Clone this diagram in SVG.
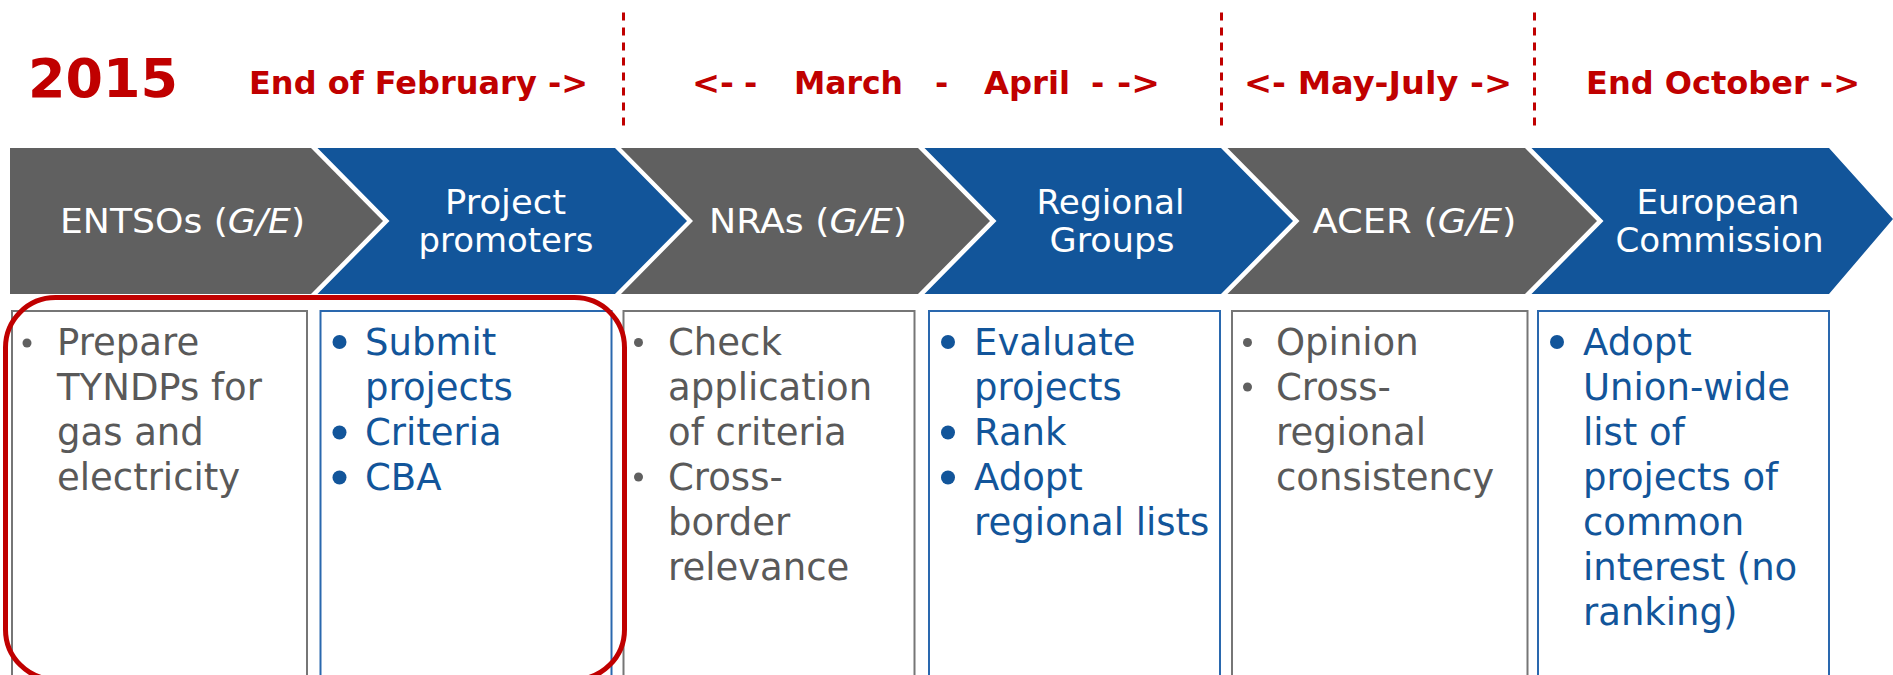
<svg xmlns="http://www.w3.org/2000/svg" width="1893" height="675" viewBox="0 0 1893 675">
<style>
.hdr{font-family:"DejaVu Sans","Verdana",sans-serif;font-weight:bold;fill:#C00000;}
.lbl{font-family:"DejaVu Sans","Verdana",sans-serif;font-size:33px;fill:#FFFFFF;text-anchor:middle;}
.gray{fill:#606060;}
.blue{fill:#12559A;}
.gtxt{font-family:"DejaVu Sans","Verdana",sans-serif;font-size:37px;fill:#595959;}
.btxt{font-family:"DejaVu Sans","Verdana",sans-serif;font-size:37px;fill:#12559A;}
.gbox{fill:#FFFFFF;stroke:#767676;stroke-width:2;}
.bbox{fill:#FFFFFF;stroke:#2A68AE;stroke-width:2;}
.div{stroke:#C00000;stroke-width:3;stroke-dasharray:8 7;fill:none;}
.gdot{fill:#606060;}
.bdot{fill:#12559A;}
</style>
<rect width="1893" height="675" fill="#FFFFFF"/>

<g id="header">
<text class="hdr" x="28" y="97" font-size="54" textLength="150" lengthAdjust="spacingAndGlyphs">2015</text>
<text class="hdr" x="249" y="94.3" font-size="32" textLength="339" lengthAdjust="spacingAndGlyphs">End of February -&gt;</text>
<text class="hdr" x="692" y="93.5" font-size="32" textLength="42" lengthAdjust="spacingAndGlyphs">&lt;-</text>
<text class="hdr" x="744" y="93.5" font-size="32">-</text>
<text class="hdr" x="794" y="93.5" font-size="32" textLength="109" lengthAdjust="spacingAndGlyphs">March</text>
<text class="hdr" x="935" y="93.5" font-size="32">-</text>
<text class="hdr" x="984" y="93.5" font-size="32" textLength="86" lengthAdjust="spacingAndGlyphs">April</text>
<text class="hdr" x="1091" y="93.5" font-size="32">-</text>
<text class="hdr" x="1117" y="93.5" font-size="32" textLength="43" lengthAdjust="spacingAndGlyphs">-&gt;</text>
<text class="hdr" x="1244" y="93.5" font-size="32" textLength="268" lengthAdjust="spacingAndGlyphs">&lt;- May-July -&gt;</text>
<text class="hdr" x="1586" y="93.5" font-size="32" textLength="274" lengthAdjust="spacingAndGlyphs">End October -&gt;</text>
</g>

<g id="dividers">
<line class="div" x1="623.5" y1="12.5" x2="623.5" y2="132"/>
<line class="div" x1="1221.5" y1="12.5" x2="1221.5" y2="132"/>
<line class="div" x1="1534.5" y1="12.5" x2="1534.5" y2="132"/>
</g>

<g id="chevron-entsos">
<polygon class="gray" points="10,148 311,148 383,221 311,294 10,294"/>
<text class="lbl" x="182.5" y="233" textLength="245" lengthAdjust="spacingAndGlyphs">ENTSOs (<tspan font-style="italic">G/E</tspan>)</text>
</g>
<g id="chevron-promoters">
<polygon class="blue" points="317.5,148 615,148 687,221 615,294 317.5,294 389.5,221"/>
<text class="lbl" x="505.5" y="213.5" textLength="121" lengthAdjust="spacingAndGlyphs">Project</text>
<text class="lbl" x="506" y="251.5" textLength="175" lengthAdjust="spacingAndGlyphs">promoters</text>
</g>
<g id="chevron-nras">
<polygon class="gray" points="621,148 918,148 990,221 918,294 621,294 693,221"/>
<text class="lbl" x="808" y="233" textLength="198" lengthAdjust="spacingAndGlyphs">NRAs (<tspan font-style="italic">G/E</tspan>)</text>
</g>
<g id="chevron-regional">
<polygon class="blue" points="924.5,148 1221,148 1293,221 1221,294 924.5,294 996.5,221"/>
<text class="lbl" x="1110.5" y="213.5" textLength="148" lengthAdjust="spacingAndGlyphs">Regional</text>
<text class="lbl" x="1112" y="251.5" textLength="125" lengthAdjust="spacingAndGlyphs">Groups</text>
</g>
<g id="chevron-acer">
<polygon class="gray" points="1227.5,148 1525,148 1597,221 1525,294 1227.5,294 1299.5,221"/>
<text class="lbl" x="1414.5" y="233" textLength="204" lengthAdjust="spacingAndGlyphs">ACER (<tspan font-style="italic">G/E</tspan>)</text>
</g>
<g id="chevron-commission">
<polygon class="blue" points="1531.5,148 1829,148 1893,219 1829,294 1531.5,294 1603.5,221"/>
<text class="lbl" x="1718" y="213.5" textLength="163" lengthAdjust="spacingAndGlyphs">European</text>
<text class="lbl" x="1719.5" y="251.5" textLength="208" lengthAdjust="spacingAndGlyphs">Commission</text>
</g>

<g id="box-entsos">
<rect class="gbox" x="12" y="311" width="295" height="380"/>
<circle class="gdot" cx="27" cy="343" r="4.5"/>
<text class="gtxt"><tspan x="57" y="354.5">Prepare</tspan><tspan x="57" y="399.5">TYNDPs for</tspan><tspan x="57" y="444.5">gas and</tspan><tspan x="57" y="489.5">electricity</tspan></text>
</g>
<g id="box-promoters">
<rect class="bbox" x="320.5" y="311" width="291" height="380"/>
<circle class="bdot" cx="339.5" cy="342" r="7"/>
<circle class="bdot" cx="339.5" cy="432.5" r="7"/>
<circle class="bdot" cx="339.5" cy="477.5" r="7"/>
<text class="btxt"><tspan x="365" y="354.5">Submit</tspan><tspan x="365" y="399.5">projects</tspan><tspan x="365" y="444.5">Criteria</tspan><tspan x="365" y="489.5">CBA</tspan></text>
</g>
<g id="box-nras">
<rect class="gbox" x="623.5" y="311" width="291" height="380"/>
<circle class="gdot" cx="638.5" cy="342.5" r="4.5"/>
<circle class="gdot" cx="638.5" cy="477" r="4.5"/>
<text class="gtxt"><tspan x="668" y="354.5">Check</tspan><tspan x="668" y="399.5">application</tspan><tspan x="668" y="444.5">of criteria</tspan><tspan x="668" y="489.5">Cross-</tspan><tspan x="668" y="534.5">border</tspan><tspan x="668" y="579.5">relevance</tspan></text>
</g>
<g id="box-regional">
<rect class="bbox" x="929" y="311" width="291" height="380"/>
<circle class="bdot" cx="948" cy="342" r="7"/>
<circle class="bdot" cx="948" cy="432.5" r="7"/>
<circle class="bdot" cx="948" cy="477.5" r="7"/>
<text class="btxt"><tspan x="974" y="354.5">Evaluate</tspan><tspan x="974" y="399.5">projects</tspan><tspan x="974" y="444.5">Rank</tspan><tspan x="974" y="489.5">Adopt</tspan><tspan x="974" y="534.5">regional lists</tspan></text>
</g>
<g id="box-acer">
<rect class="gbox" x="1232" y="311" width="295.5" height="380"/>
<circle class="gdot" cx="1247.5" cy="342.5" r="4.5"/>
<circle class="gdot" cx="1247.5" cy="387" r="4.5"/>
<text class="gtxt"><tspan x="1276" y="354.5">Opinion</tspan><tspan x="1276" y="399.5">Cross-</tspan><tspan x="1276" y="444.5">regional</tspan><tspan x="1276" y="489.5">consistency</tspan></text>
</g>
<g id="box-commission">
<rect class="bbox" x="1538" y="311" width="291" height="380"/>
<circle class="bdot" cx="1557" cy="342" r="7"/>
<text class="btxt"><tspan x="1583" y="354.5">Adopt</tspan><tspan x="1583" y="399.5">Union-wide</tspan><tspan x="1583" y="444.5">list of</tspan><tspan x="1583" y="489.5">projects of</tspan><tspan x="1583" y="534.5">common</tspan><tspan x="1583" y="579.5">interest (no</tspan><tspan x="1583" y="624.5">ranking)</tspan></text>
</g>

<g id="highlight">
<rect x="5.5" y="297.5" width="619" height="382" rx="50" ry="50" fill="none" stroke="#C00000" stroke-width="5"/>
</g>
<g id="connectors"></g>
</svg>
